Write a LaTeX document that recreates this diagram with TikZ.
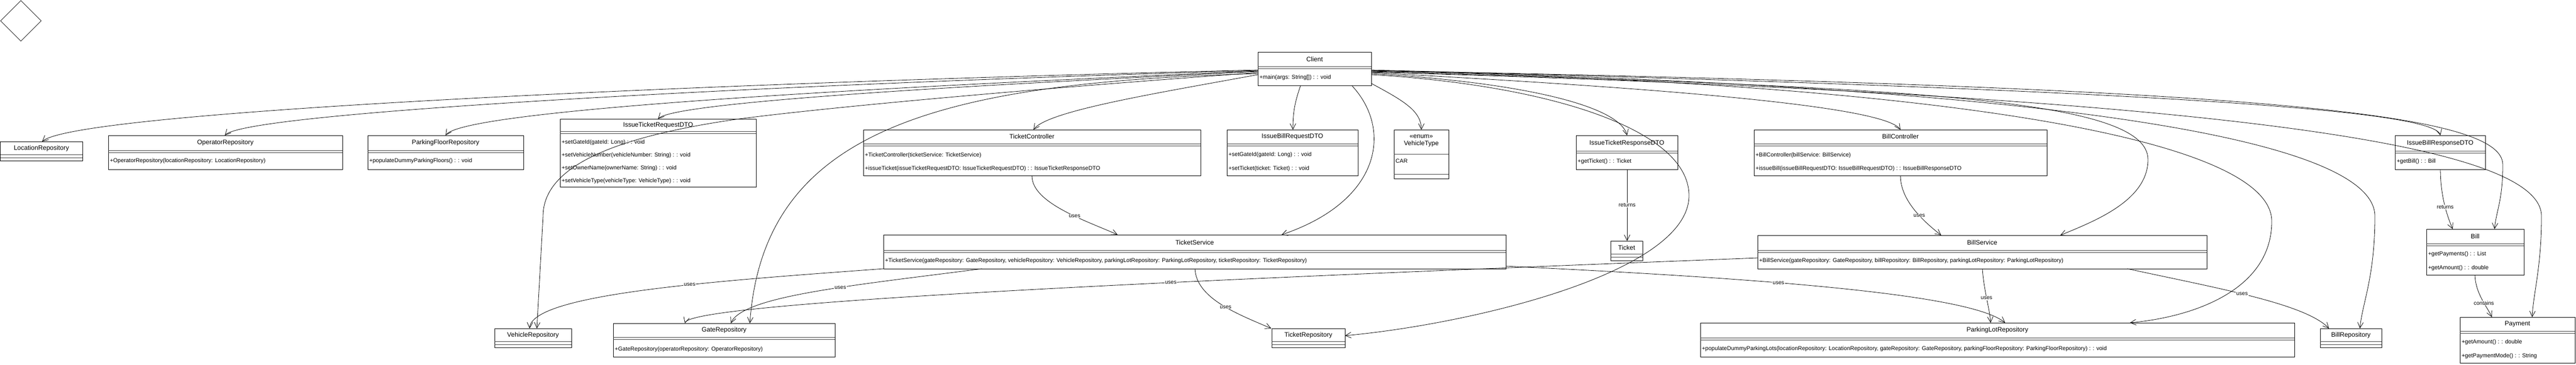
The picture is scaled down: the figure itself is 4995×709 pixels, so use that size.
\documentclass[tikz,border=0pt]{standalone}
\usepackage{fontspec}
\setmainfont{Liberation Sans}
\usetikzlibrary{arrows.meta,calc,shapes.geometric}
\tikzset{
 clsbox/.style={draw=black, line width=1pt, fill=white, anchor=north west, inner sep=0pt, outer sep=0pt},
 divline/.style={line width=0.9pt, black!75},
 ttl/.style={font=\fontsize{12.5pt}{14pt}\selectfont, inner sep=0pt},
 mth/.style={font=\fontsize{11pt}{13pt}\selectfont, inner sep=0pt, anchor=west},
 conn/.style={draw=black, line width=0.8pt, -{Straight Barb[length=11pt,width=11pt]}},
 lbl/.style={font=\fontsize{10.5pt}{12pt}\selectfont, fill=white, inner sep=1pt},
}
% name, x, y, w, h, title height, title
\newcommand\umlbox[7]{%
  \node[clsbox, minimum width=#4pt, minimum height=#5pt] (#1) at (#2,#3) {};
  \node[ttl] (#1t) at ($(#1.north)+(0,#6/2)$) {#7};
  \draw[divline] ($(#1.north west)+(0,#6)$) -- ($(#1.north east)+(0,#6)$);
  \draw[divline] ($(#1.north west)+(0,#6+4)$) -- ($(#1.north east)+(0,#6+4)$);
}
% name, x, y, w, h, title
\newcommand\umlempty[6]{%
  \node[clsbox, minimum width=#4pt, minimum height=#5pt] (#1) at (#2,#3) {};
  \node[ttl] (#1t) at ($(#1.north)+(0,13)$) {#6};
  \draw[divline] ($(#1.north west)+(0,25)$) -- ($(#1.north east)+(0,25)$);
  \draw[divline] ($(#1.north west)+(0,31)$) -- ($(#1.north east)+(0,31)$);
}
% name, index, y offset, text
\newcommand\umlm[4]{\node[mth] (#1m#2) at ($(#1.north west)+(3,#3)$) {#4};}
\begin{document}
\begin{tikzpicture}[x=1pt,y=-1pt]
\useasboundingbox (0,0) rectangle (4995,709);
\node[draw, diamond, minimum width=79pt, minimum height=79pt, inner sep=0pt, line width=0.8pt] (dia) at (40.5,40.5) {};

\umlempty{loc}{0.6}{275}{159.4}{37}{LocationRepository}
\umlbox{ops}{210}{263}{454}{66}{29}{OperatorRepository}
\umlm{ops}{1}{50}{+OperatorRepository(locationRepository: LocationRepository)}
\umlbox{pfr}{713}{263}{302}{66}{29}{ParkingFloorRepository}
\umlm{pfr}{1}{50}{+populateDummyParkingFloors() : : void}
\umlbox{itrq}{1086}{231}{380}{132}{24}{IssueTicketRequestDTO}
\umlm{itrq}{1}{46}{+setGateId(gateId: Long) : : void}
\umlm{itrq}{2}{71}{+setVehicleNumber(vehicleNumber: String) : : void}
\umlm{itrq}{3}{96}{+setOwnerName(ownerName: String) : : void}
\umlm{itrq}{4}{121}{+setVehicleType(vehicleType: VehicleType) : : void}
\umlbox{tc}{1674}{252}{654}{89}{27}{TicketController}
\umlm{tc}{1}{50}{+TicketController(ticketService: TicketService)}
\umlm{tc}{2}{76}{+issueTicket(issueTicketRequestDTO: IssueTicketRequestDTO) : : IssueTicketResponseDTO}
\umlbox{ibrq}{2379}{252}{254}{89}{27}{IssueBillRequestDTO}
\umlm{ibrq}{1}{49}{+setGateId(gateId: Long) : : void}
\umlm{ibrq}{2}{76}{+setTicket(ticket: Ticket) : : void}
\umlbox{client}{2439}{101}{220}{65}{28}{Client}
\umlm{client}{1}{50}{+main(args: String[]) : : void}

\node[clsbox, minimum width=106pt, minimum height=95pt] (vt) at (2703,252) {};
\node[ttl, align=center] (vtt) at ($(vt.north)+(0,21)$) {<<enum>>\\VehicleType};
\draw[divline] ($(vt.north west)+(0,47)$) -- ($(vt.north east)+(0,47)$);
\node[mth] (vtm1) at ($(vt.north west)+(3,61)$) {CAR};
\draw[divline] ($(vt.north west)+(0,86)$) -- ($(vt.north east)+(0,86)$);

\umlbox{itrs}{3056}{263}{197}{66}{30}{IssueTicketResponseDTO}
\umlm{itrs}{1}{51}{+getTicket() : : Ticket}
\umlempty{ticket}{3123}{468}{62}{38}{Ticket}
\umlbox{bc}{3401}{252}{568}{89}{27}{BillController}
\umlm{bc}{1}{50}{+BillController(billService: BillService)}
\umlm{bc}{2}{76}{+issueBill(issueBillRequestDTO: IssueBillRequestDTO) : : IssueBillResponseDTO}
\umlbox{ibrs}{4644}{263}{175}{66}{30}{IssueBillResponseDTO}
\umlm{ibrs}{1}{51}{+getBill() : : Bill}
\umlbox{bill}{4705}{445}{189}{89}{28}{Bill}
\umlm{bill}{1}{49}{+getPayments() : : List}
\umlm{bill}{2}{76}{+getAmount() : : double}
\umlbox{pay}{4770}{616}{223}{89}{27}{Payment}
\umlm{pay}{1}{49}{+getAmount() : : double}
\umlm{pay}{2}{76}{+getPaymentMode() : : String}
\umlbox{ts}{1713}{456}{1207}{66}{30}{TicketService}
\umlm{ts}{1}{51}{+TicketService(gateRepository: GateRepository, vehicleRepository: VehicleRepository, parkingLotRepository: ParkingLotRepository, ticketRepository: TicketRepository)}
\umlbox{bs}{3408}{457}{871}{65}{29}{BillService}
\umlm{bs}{1}{50}{+BillService(gateRepository: GateRepository, billRepository: BillRepository, parkingLotRepository: ParkingLotRepository)}
\umlempty{tr}{2466}{638}{142}{37}{TicketRepository}
\umlempty{vr}{959}{638}{149}{37}{VehicleRepository}
\umlbox{gr}{1189}{628}{430}{65}{27}{GateRepository}
\umlm{gr}{1}{51}{+GateRepository(operatorRepository: OperatorRepository)}
\umlbox{plr}{3297}{627}{1152}{66}{29}{ParkingLotRepository}
\umlm{plr}{1}{51}{+populateDummyParkingLots(locationRepository: LocationRepository, gateRepository: GateRepository, parkingFloorRepository: ParkingFloorRepository) : : void}
\umlempty{br}{4499}{638}{119}{37}{BillRepository}

% Client, left side
\draw[conn] ([yshift=-35pt]client.north west) .. controls (1400,160) and (150,215) .. ([xshift=81pt]loc.north west);
\draw[conn] ([yshift=-36pt]client.north west) .. controls (1600,160) and (480,215) .. ([xshift=226pt]ops.north west);
\draw[conn] ([yshift=-37pt]client.north west) .. controls (1800,165) and (900,210) .. ([xshift=151pt]pfr.north west);
\draw[conn] ([yshift=-38pt]client.north west) .. controls (2000,160) and (1310,195) .. ([xshift=190pt]itrq.north west);
\draw[conn] ([yshift=-40pt]client.north west) .. controls (1900,180) and (1550,215) .. (1426,232) .. controls (1200,265) and (1053,320) .. (1053,420) -- ([xshift=82pt]vr.north west);
\draw[conn] ([yshift=-42pt]client.north west) .. controls (1800,160) and (1480,260) .. ([xshift=265pt]gr.north west);
\draw[conn] ([yshift=-44pt]client.north west) .. controls (2250,180) and (2030,215) .. ([xshift=330pt]tc.north west);
% Client, bottom
\draw[conn] ([xshift=182pt]client.south west) .. controls (2700,250) and (2680,390) .. ([xshift=772pt]ts.north west);
\draw[conn] ([xshift=83pt]client.south west) .. controls (2510,200) and (2507,220) .. ([xshift=128pt]ibrq.north west);
\draw[conn] ([yshift=-61pt]client.north east) .. controls (2720,195) and (2756,215) .. ([xshift=53pt]vt.north west);
% Client, right side
\draw[conn] ([yshift=-42pt]client.north east) .. controls (2950,160) and (3140,205) .. ([xshift=99pt]itrs.north west);
\draw[conn] ([yshift=-44pt]client.north east) .. controls (3000,165) and (3275,250) .. (3275,380) .. controls (3275,530) and (2850,630) .. ([yshift=-14pt]tr.north east);
\draw[conn] ([yshift=-40pt]client.north east) .. controls (3100,165) and (3650,200) .. ([xshift=284pt]bc.north west);
\draw[conn] ([yshift=-38pt]client.north east) .. controls (3700,170) and (4165,190) .. (4165,310) .. controls (4165,390) and (4060,430) .. ([xshift=587pt]bs.north west);
\draw[conn] ([yshift=-37pt]client.north east) .. controls (3700,160) and (4405,260) .. (4405,430) .. controls (4405,560) and (4260,615) .. ([xshift=833pt]plr.north west);
\draw[conn] ([yshift=-36pt]client.north east) .. controls (3900,165) and (4605,260) .. (4605,420) .. controls (4605,540) and (4580,590) .. ([xshift=77pt]br.north west);
\draw[conn] ([yshift=-35pt]client.north east) .. controls (4200,175) and (4720,215) .. ([xshift=88pt]ibrs.north west);
\draw[conn] ([yshift=-36pt]client.north east) .. controls (4400,170) and (4853,220) .. (4853,320) .. controls (4853,390) and (4840,410) .. ([xshift=132pt]bill.north west);
\draw[conn] ([yshift=-39pt]client.north east) .. controls (4400,190) and (4928,290) .. (4928,420) .. controls (4928,520) and (4912,570) .. ([xshift=140pt]pay.north west);

% uses / returns / contains
\draw[conn] ([xshift=327pt]tc.south west) .. controls (2000,395) and (2110,430) .. node[lbl, pos=0.6] (l1) {uses} ([xshift=454pt]ts.north west);
\draw[conn] ([xshift=284pt]bc.south west) .. controls (3685,390) and (3730,430) .. node[lbl, pos=0.6] (l2) {uses} ([xshift=356pt]bs.north west);
\draw[conn] (ts.south west) .. controls (1400,545) and (1030,570) .. node[lbl, pos=0.4] (l3) {uses} ([xshift=68pt]vr.north west);
\draw[conn] ([xshift=191pt]ts.south west) .. controls (1650,555) and (1440,575) .. node[lbl, pos=0.4] (l4) {uses} ([xshift=228pt]gr.north west);
\draw[conn] ([yshift=-44pt]bs.north west) .. controls (2400,540) and (1340,585) .. node[lbl, pos=0.39] (l5) {uses} ([xshift=139pt]gr.north west);
\draw[conn] ([yshift=-61pt]ts.north east) .. controls (3400,540) and (3820,570) .. node[lbl, pos=0.4] (l6) {uses} ([xshift=591pt]plr.north west);
\draw[conn] ([xshift=436pt]bs.south west) .. controls (3846,560) and (3858,600) .. node[lbl, pos=0.5] (l7) {uses} ([xshift=563pt]plr.north west);
\draw[conn] ([xshift=717pt]bs.south west) .. controls (4300,560) and (4470,590) .. node[lbl, pos=0.45] (l8) {uses} ([xshift=17pt]br.north west);
\draw[conn] ([xshift=604pt]ts.south west) .. controls (2320,580) and (2400,610) .. node[lbl, pos=0.55] (l9) {uses} ([xshift=-1pt]tr.north west);
\draw[conn] ([xshift=99pt]itrs.south west) -- node[lbl, pos=0.5] (l10) {returns} ([xshift=32pt]ticket.north west);
\draw[conn] ([xshift=88pt]ibrs.south west) .. controls (4732,380) and (4745,420) .. node[lbl, pos=0.55] (l11) {returns} ([xshift=51pt]bill.north west);
\draw[conn] ([xshift=94pt]bill.south west) .. controls (4800,570) and (4822,595) .. node[lbl, pos=0.6] (l12) {contains} ([xshift=62pt]pay.north west);
\end{tikzpicture}
\end{document}
